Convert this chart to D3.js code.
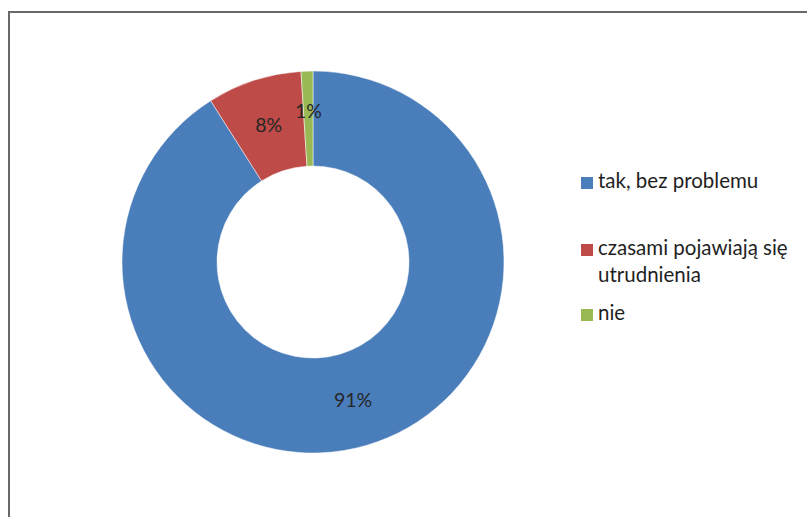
<!DOCTYPE html>
<html>
<head>
<meta charset="utf-8">
<script src="https://cdn.jsdelivr.net/npm/d3@7/dist/d3.min.js"></script>
<style>
  body { margin: 0; background: #fff; }
  svg { display: block; }
  text { font-family: Lato, "Open Sans", sans-serif; }
</style>
</head>
<body>
<div id="chart"></div>
<script>
const categories = ['tak, bez problemu', 'czasami pojawiają się utrudnienia', 'nie'];
const values = [91, 8, 1];
const labels = ['91%', '8%', '1%'];
const legendLines = [['tak, bez problemu'], ['czasami pojawiają się', 'utrudnienia'], ['nie']];
const colors = ['#4A7EBB', '#BE4B48', '#98B954'];

const width = 807, height = 517;

const svg = d3.select('#chart').append('svg')
  .attr('width', width)
  .attr('height', height);

// chart area border (runs off the right and bottom edges)
svg.append('rect')
  .attr('x', 9).attr('y', 12)
  .attr('width', 900).attr('height', 600)
  .attr('fill', 'none')
  .attr('stroke', '#686868')
  .attr('stroke-width', 2);

const cx = 313, cy = 262;
const outerR = 191, innerR = 96;

const pie = d3.pie().sort(null).value(d => d);
const arc = d3.arc().innerRadius(innerR).outerRadius(outerR);

const g = svg.append('g').attr('transform', `translate(${cx},${cy})`);

const slices = pie(values);

g.selectAll('path')
  .data(slices)
  .enter()
  .append('path')
  .attr('d', arc)
  .attr('fill', (d, i) => colors[i])
  .attr('stroke', '#fff')
  .attr('stroke-width', 0.5);

// small slice label gets nudged up like Excel does
const nudge = [0, 0, -7];

g.selectAll('.lbl')
  .data(slices)
  .enter()
  .append('text')
  .attr('class', 'lbl')
  .attr('x', d => arc.centroid(d)[0])
  .attr('y', (d, i) => arc.centroid(d)[1] + nudge[i])
  .attr('dy', '0.35em')
  .attr('text-anchor', 'middle')
  .attr('font-size', 19.5)
  .attr('fill', '#262626')
  .text((d, i) => labels[i]);

// legend
const legendY = [188, 255, 320];
const legend = svg.append('g');

categories.forEach((c, i) => {
  const item = legend.append('g').attr('transform', `translate(581,${legendY[i]})`);
  item.append('rect')
    .attr('x', 0).attr('y', -11)
    .attr('width', 12).attr('height', 12)
    .attr('fill', colors[i]);
  const t = item.append('text')
    .attr('x', 17).attr('y', 0)
    .attr('font-size', 20.5)
    .attr('fill', '#1f1f1f');
  legendLines[i].forEach((line, j) => {
    t.append('tspan').attr('x', 17).attr('dy', j ? 27 : 0).text(line);
  });
});
</script>
</body>
</html>
